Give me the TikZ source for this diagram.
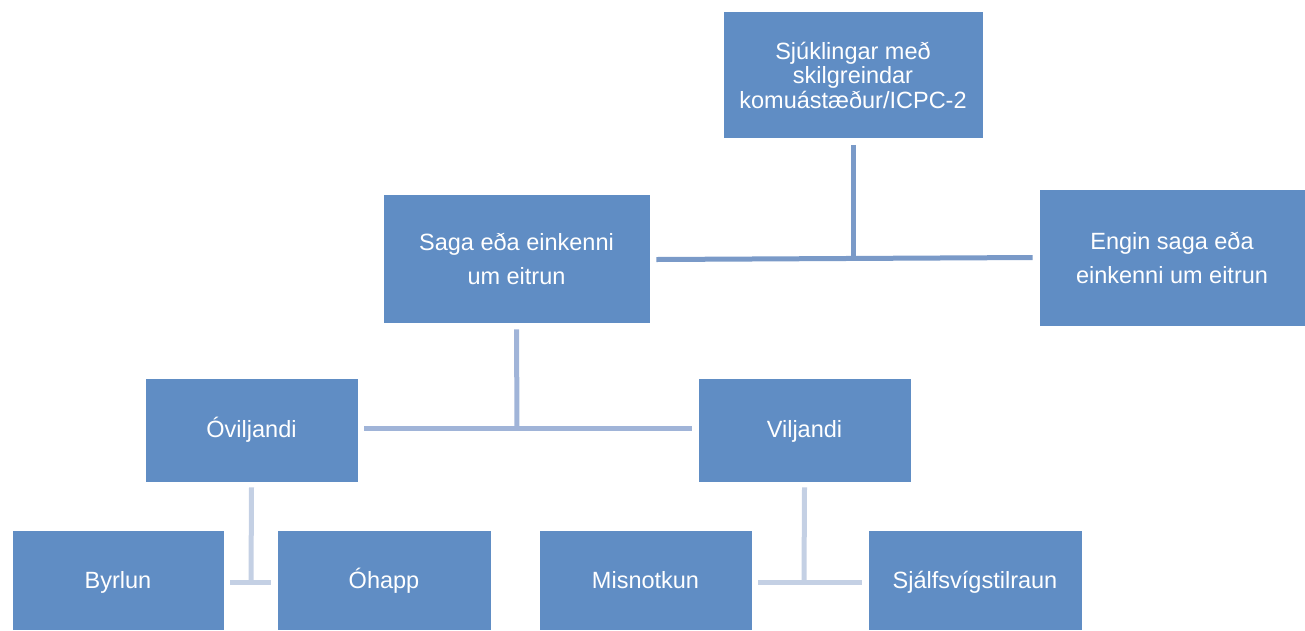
\documentclass[tikz,border=0pt]{standalone}
\usepackage{fontspec}
\setmainfont{Liberation Sans}
\usetikzlibrary{calc}
\definecolor{boxblue}{RGB}{96,141,196}
\definecolor{lineA}{RGB}{122,154,200}
\definecolor{lineB}{RGB}{160,180,216}
\definecolor{lineC}{RGB}{196,208,228}
\tikzset{
  box/.style={fill=boxblue, draw=white, line width=0.8pt, text=white, inner sep=0pt, align=center,
    font=\fontsize{23.5}{34}\selectfont},
  oneline/.style={text height=20pt, text depth=5pt},
  conn/.style={line width=5pt}
}
\begin{document}
\begin{tikzpicture}[x=1pt,y=-1pt]
\useasboundingbox (0,0) rectangle (1305,630);
\node[box, minimum width=260, minimum height=127, font=\fontsize{23.5}{24.5}\selectfont] (top) at (853,75) {Sjúklingar með\\skilgreindar\\komuástæður/ICPC-2};
\node[box, minimum width=267, minimum height=129] (saga) at (516.5,258.5) {Saga eða einkenni\\um eitrun};
\node[box, minimum width=266, minimum height=137] (engin) at (1172,257.5) {Engin saga eða\\einkenni um eitrun};
\node[box, oneline, minimum width=213, minimum height=104] (ovil) at (251.5,430) {Óviljandi};
\node[box, oneline, minimum width=213, minimum height=104] (vil) at (804.5,430) {Viljandi};
\node[box, oneline, minimum width=212, minimum height=100] (byr) at (118,580.5) {Byrlun};
\node[box, oneline, minimum width=214, minimum height=100] (oha) at (384,580.5) {Óhapp};
\node[box, oneline, minimum width=213, minimum height=100] (mis) at (645.5,580.5) {Misnotkun};
\node[box, oneline, minimum width=214, minimum height=100] (sja) at (975,580.5) {Sjálfsvígstilraun};
\coordinate (j1) at (853,259);
\coordinate (j2) at (517,428);
\coordinate (j3) at (251,582);
\coordinate (j4) at (804,582);
\draw[conn, lineA] ($(top.south)+(0,6)$) -- (j1);
\draw[conn, lineA] ($(saga.east)+(6,1)$) -- ($(engin.west)+(-6,0)$);
\draw[conn, lineB] ($(saga.south)+(0,6)$) -- (j2);
\draw[conn, lineB] ($(ovil.east)+(6,-2)$) -- ($(vil.west)+(-6,-2)$);
\draw[conn, lineC] ($(ovil.south)+(0,5)$) -- (j3);
\draw[conn, lineC] ($(byr.east)+(6,1.5)$) -- ($(oha.west)+(-6,1.5)$);
\draw[conn, lineC] ($(vil.south)+(0,5)$) -- (j4);
\draw[conn, lineC] ($(mis.east)+(6,1.5)$) -- ($(sja.west)+(-6,1.5)$);
\end{tikzpicture}
\end{document}
